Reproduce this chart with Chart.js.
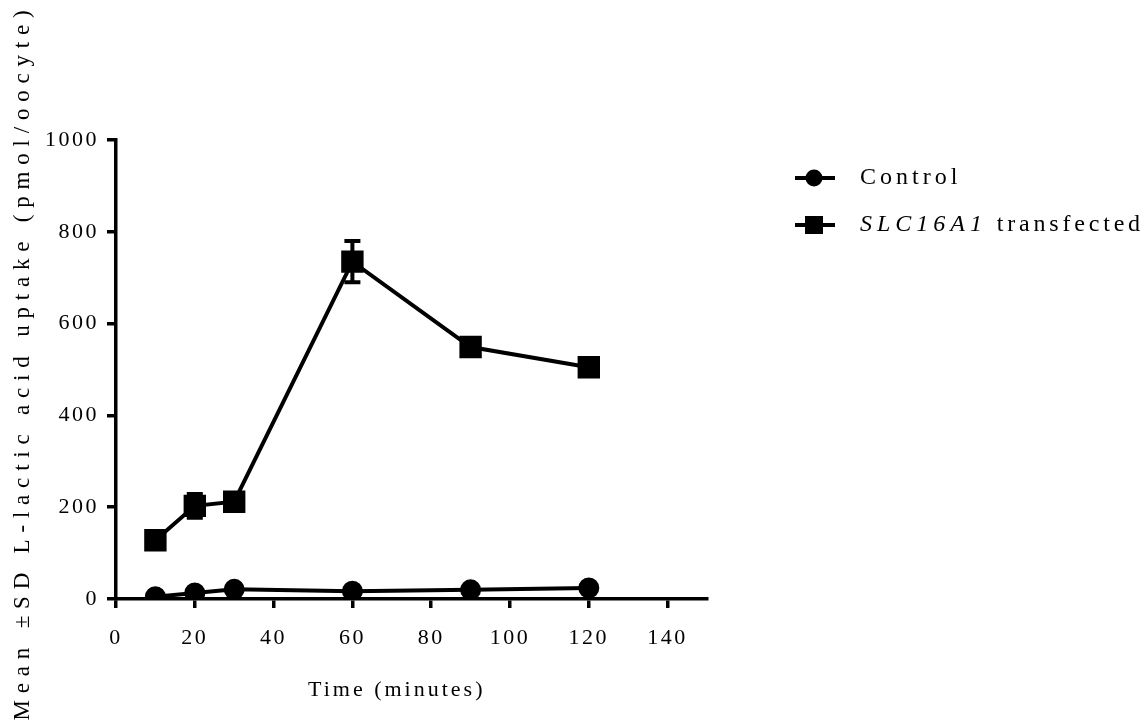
<!DOCTYPE html>
<html>
<head>
    <meta charset="utf-8">
    <title>L-lactic acid uptake</title>
    <script src="https://cdn.jsdelivr.net/npm/chart.js"></script>
    <style>
        html, body { margin: 0; padding: 0; background: #ffffff; }
        #uptakeChart { display: block; }
    </style>
</head>
<body>
<canvas id="uptakeChart" width="1147" height="726"></canvas>
<script>
    // sampling times (minutes)
    const timeMinutes = [10, 20, 30, 60, 90, 120];

    // uptake, pmol/oocyte, mean and SD
    const controlMean = [5, 13, 21, 17, 20, 24];
    const controlSd = [3, 3, 3, 2, 3, 4];
    const slcMean = [128, 203, 212, 735, 549, 505];
    const slcSd = [6, 26, 8, 45, 8, 6];

    const seriesNames = ["Control", "SLC16A1", " transfected"];
    const xTitle = "Time (minutes)";
    const yTitle = "Mean \u00B1SD L-lactic acid uptake (pmol/oocyte)";

    const SERIF = "'Liberation Serif', 'Times New Roman', serif";

    function toPoints(xs, ys) {
        return xs.map((x, i) => ({ x: x, y: ys[i] }));
    }

    // vertical SD whiskers with caps, drawn under the markers
    const errorBars = {
        id: "errorBars",
        beforeDatasetsDraw(chart) {
            const ctx = chart.ctx;
            const xScale = chart.scales.x;
            const yScale = chart.scales.y;
            const sets = [[controlMean, controlSd], [slcMean, slcSd]];

            ctx.save();
            ctx.strokeStyle = "#000000";
            ctx.lineWidth = 4;
            sets.forEach(([mean, sd]) => {
                mean.forEach((m, i) => {
                    const x = xScale.getPixelForValue(timeMinutes[i]);
                    const top = yScale.getPixelForValue(m + sd[i]);
                    const bottom = yScale.getPixelForValue(m - sd[i]);
                    ctx.beginPath();
                    ctx.moveTo(x, top);
                    ctx.lineTo(x, bottom);
                    ctx.moveTo(x - 8, top);
                    ctx.lineTo(x + 8, top);
                    ctx.moveTo(x - 8, bottom);
                    ctx.lineTo(x + 8, bottom);
                    ctx.stroke();
                });
            });
            ctx.restore();
        },
    };

    // spaced-out serif lettering for the tick labels
    const spacedText = {
        id: "spacedText",
        beforeDraw(chart) {
            chart.ctx.letterSpacing = "2.5px";
        },
    };

    // axis titles and the legend on the right
    const annotations = {
        id: "annotations",
        afterDraw(chart) {
            const ctx = chart.ctx;

            ctx.save();
            ctx.fillStyle = "#000000";
            ctx.strokeStyle = "#000000";
            ctx.textBaseline = "middle";

            // x title
            ctx.font = "22px " + SERIF;
            ctx.letterSpacing = "3px";
            ctx.textAlign = "left";
            ctx.fillText(xTitle, 308, 690);

            // y title, rotated
            ctx.save();
            ctx.translate(23, 362);
            ctx.rotate(-Math.PI / 2);
            ctx.textAlign = "center";
            ctx.font = "23px " + SERIF;
            ctx.letterSpacing = "6.8px";
            ctx.fillText(yTitle, 0, 0);
            ctx.restore();

            // legend
            const lx = 795;
            const rows = [178, 225];
            ctx.lineWidth = 4;
            rows.forEach((y) => {
                ctx.beginPath();
                ctx.moveTo(lx, y);
                ctx.lineTo(lx + 40, y);
                ctx.stroke();
            });
            ctx.beginPath();
            ctx.arc(lx + 19, rows[0], 8.5, 0, Math.PI * 2);
            ctx.fill();
            ctx.fillRect(lx + 10, rows[1] - 9, 18, 18);

            ctx.textAlign = "left";
            ctx.letterSpacing = "4px";
            ctx.font = "24px " + SERIF;
            ctx.fillText(seriesNames[0], 860, rows[0]);

            ctx.font = "italic 24px " + SERIF;
            ctx.letterSpacing = "5px";
            ctx.fillText(seriesNames[1], 860, rows[1]);
            const w = ctx.measureText(seriesNames[1]).width;
            ctx.font = "24px " + SERIF;
            ctx.letterSpacing = "3.8px";
            ctx.fillText(seriesNames[2], 860 + w, rows[1]);
            ctx.restore();
        },
    };

    function axisOptions(min, max, step) {
        return {
            type: "linear",
            min: min,
            max: max,
            grid: {
                display: true,
                drawOnChartArea: false,
                drawTicks: true,
                tickLength: 9,
                color: "#000000",
                lineWidth: 3.5,
            },
            border: { display: true, color: "#000000", width: 3.5 },
            ticks: {
                stepSize: step,
                includeBounds: false,
                color: "#000000",
                font: { family: SERIF, size: 22 },
                padding: 8,
                callback: (value) => String(value),
            },
        };
    }

    function buildChart() {
        const xAxis = axisOptions(0, 150, 20);
        xAxis.afterFit = (scale) => { scale.height = 127; };
        xAxis.ticks.padding = 17;

        const yAxis = axisOptions(0, 1000, 200);
        yAxis.afterFit = (scale) => { scale.width = 116; };

        const config = {
            type: "line",
            data: {
                datasets: [
                    {
                        label: seriesNames[0],
                        data: toPoints(timeMinutes, controlMean),
                        borderColor: "#000000",
                        backgroundColor: "#000000",
                        borderWidth: 4,
                        pointStyle: "circle",
                        pointRadius: 8.5,
                        pointHoverRadius: 8.5,
                        tension: 0,
                    },
                    {
                        label: seriesNames[1] + seriesNames[2],
                        data: toPoints(timeMinutes, slcMean),
                        borderColor: "#000000",
                        backgroundColor: "#000000",
                        borderWidth: 4,
                        pointStyle: "rect",
                        pointRadius: 13,
                        pointHoverRadius: 13,
                        tension: 0,
                    },
                ],
            },
            options: {
                responsive: false,
                animation: false,
                layout: { padding: { top: 140, right: 440, left: 0, bottom: 0 } },
                plugins: {
                    legend: { display: false },
                    tooltip: { enabled: false },
                },
                scales: { x: xAxis, y: yAxis },
            },
            plugins: [spacedText, errorBars, annotations],
        };

        const ctx = document.getElementById("uptakeChart").getContext("2d");

        return new Chart(ctx, config);
    }

    buildChart();
</script>
</body>
</html>
